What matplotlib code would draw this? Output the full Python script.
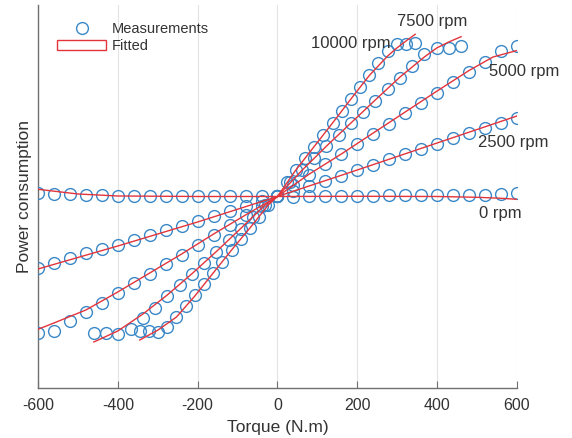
import numpy as np
import matplotlib.pyplot as plt
from matplotlib.lines import Line2D
from matplotlib.patches import Patch

plt.rcParams['font.family'] = ['Liberation Sans', 'DejaVu Sans']
plt.rcParams['axes.unicode_minus'] = False

# Measurement grids (torque, N.m)
tq_wide = np.arange(-600, 601, 40)          # 0, 2500, 5000 rpm
tq_7500 = np.linspace(-460, 460, 31)
tq_10000 = np.linspace(-345, 345, 31)

p_0 = [194.7, 193.7, 193.7, 193.0, 193.0, 192.3, 192.3, 192.3, 192.3, 192.3,
       192.3, 192.3, 192.3, 192.3, 192.3, 191.5, 191.3, 192.3, 192.3, 192.3,
       192.3, 192.3, 193.0, 193.0, 193.0, 193.0, 193.0, 193.3, 193.3, 194.0, 194.7]
p_2500 = [120.3, 125.0, 129.7, 134.7, 138.7, 143.0, 148.0, 152.7, 157.7, 162.0,
          167.0, 172.3, 177.3, 182.0, 187.0, 191.5, 197.0, 202.3, 207.3, 212.3,
          218.0, 223.0, 228.7, 233.7, 239.0, 244.0, 249.7, 254.7, 259.7, 264.7, 270.3]
p_5000 = [54.7, 57.0, 66.5, 76.0, 85.3, 94.8, 104.7, 114.0, 124.0, 133.3,
          143.2, 153.2, 162.5, 172.5, 182.0, 191.5, 203.0, 213.0, 223.7, 233.7,
          243.7, 253.7, 264.0, 274.7, 284.7, 295.3, 305.7, 315.7, 326.3, 337.3, 342.3]
p_7500 = [55.0, 54.5, 54.0, 58.5, 69.7, 80.3, 91.7, 102.7, 113.7, 125.0,
          136.3, 148.0, 159.3, 171.3, 183.0, 191.5, 206.0, 218.0, 230.0, 241.5,
          253.0, 264.5, 276.0, 287.0, 298.7, 310.3, 322.0, 334.0, 339.7, 339.7, 342.3]
p_10000 = [57.3, 57.3, 56.0, 61.0, 71.3, 82.0, 93.0, 104.3, 115.2, 126.3,
           137.7, 148.7, 159.7, 171.3, 183.0, 191.5, 206.3, 218.0, 229.7, 241.3,
           253.0, 265.0, 277.3, 288.7, 300.7, 312.7, 324.7, 337.3, 343.7, 344.3, 345.3]

# Fitted curves
fit_x_0 = [-600, -500, -400, -200, 0, 200, 400, 500, 560, 600]
fit_p_0 = [198.7, 194.0, 192.0, 191.5, 191.5, 191.7, 191.5, 190.7, 189.7, 188.7]
fit_x_2500 = [-600, -400, -200, 0, 200, 400, 600]
fit_p_2500 = [119, 142, 166, 191.5, 218, 245, 272]
fit_x_5000 = [-600, -560, -480, -400, -320, -240, -160, -80, 0, 80, 160, 240,
              320, 400, 480, 540, 600]
fit_p_5000 = [58.7, 65, 78, 96, 115, 134, 154, 173, 191.5, 214, 234, 255,
              276, 297, 317.5, 331, 337.5]
fit_x_7500 = [-460, -400, -337, -276, -215, -153, -92, -31, 0, 61, 123, 184,
              245, 307, 368, 399, 429, 460]
fit_p_7500 = [46, 57, 74, 93, 114, 136.5, 159.5, 183, 191.5, 217.5, 242, 265,
              288, 311, 331, 340, 346, 351.3]
fit_x_10000 = [-345, -299, -253, -207, -161, -115, -69, -23, 0, 46, 92, 138,
               184, 230, 276, 299, 322, 345]
fit_p_10000 = [48, 58, 71, 92, 115, 138, 160, 183, 191.5, 218, 241.5, 265,
               289, 312.5, 332, 340, 347, 353.7]

speed_labels = ['0 rpm', '2500 rpm', '5000 rpm', '7500 rpm', '10000 rpm']
label_x = [559, 590, 618, 387, 184]
label_p = [174, 245, 316, 366, 344]

blue = '#3a88c6'
red = '#e3343c'
txt = '#333333'

fig = plt.figure(figsize=(5.72, 4.38), dpi=100)
ax = fig.add_axes([0.0664, 0.1142, 0.8374, 0.8744])

meas = [(tq_wide, p_0), (tq_wide, p_2500), (tq_wide, p_5000),
        (tq_7500, p_7500), (tq_10000, p_10000)]
fits = [(fit_x_0, fit_p_0), (fit_x_2500, fit_p_2500), (fit_x_5000, fit_p_5000),
        (fit_x_7500, fit_p_7500), (fit_x_10000, fit_p_10000)]

for (x, p) in meas:
    ax.plot(x, p, 'o', ms=8.5, mfc='none', mec=blue, mew=1.0, zorder=3)
for (x, p) in fits:
    ax.plot(x, p, '-', color=red, lw=1.0, zorder=4)

for s, lx, lp in zip(speed_labels, label_x, label_p):
    ax.text(lx, lp, s, ha='center', va='center', fontsize=12, color=txt)

ax.set_xlim(-600, 600)
ax.set_ylim(0, 383)
ax.set_xticks([-600, -400, -200, 0, 200, 400, 600])
ax.set_yticks([])
ax.grid(axis='x', color='#e3e3e3', lw=0.8)
ax.set_axisbelow(True)
for sp in ['top', 'right']:
    ax.spines[sp].set_visible(False)
for sp in ['left', 'bottom']:
    ax.spines[sp].set_color('#707070')
    ax.spines[sp].set_linewidth(1.0)
ax.tick_params(axis='x', direction='in', length=5, color='#707070',
               labelsize=11.5, labelcolor=txt, pad=7)
ax.set_xlabel('Torque (N.m)', fontsize=12.5, color=txt, labelpad=5)
ax.set_ylabel('Power consumption', fontsize=12.5, color=txt, labelpad=4)

handles = [Line2D([], [], ls='none', marker='o', ms=8.5, mfc='none', mec=blue, mew=1.0),
           Patch(facecolor='white', edgecolor=red, lw=1.0)]
ax.legend(handles, ['Measurements', 'Fitted'], loc='upper left',
          bbox_to_anchor=(0.012, 0.99), frameon=False, fontsize=10.5,
          handlelength=3.4, handletextpad=0.35, labelspacing=0.2,
          labelcolor=txt)

fig.savefig('out.png', dpi=100)
